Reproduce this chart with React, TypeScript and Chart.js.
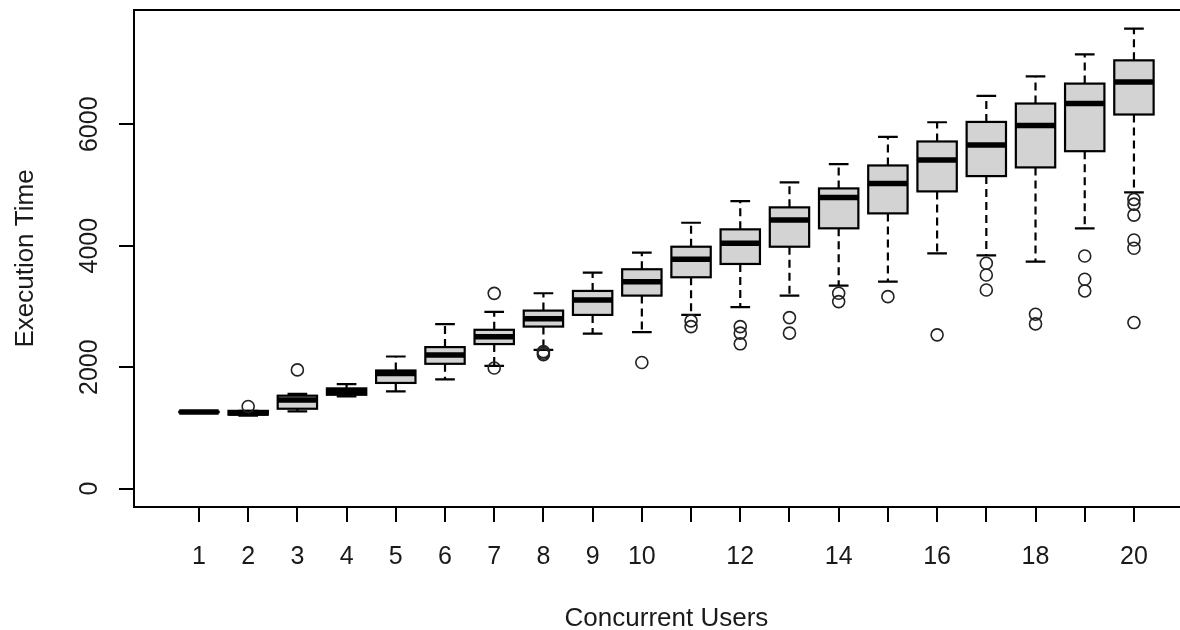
import React, { useEffect, useRef } from 'react';
import { Chart, registerables } from 'chart.js';

Chart.register(...registerables);

// ---- data ----
const users = [1, 2, 3, 4, 5, 6, 7, 8, 9, 10, 11, 12, 13, 14, 15, 16, 17, 18, 19, 20];
const xTickLabels = ['1', '2', '3', '4', '5', '6', '7', '8', '9', '10', '', '12', '', '14', '', '16', '', '18', '', '20'];
const yTickValues = [0, 2000, 4000, 6000];
const yTickLabels = ['0', '2000', '4000', '6000'];

const lowerWhisker = [1255, 1200, 1270, 1520, 1600, 1800, 2020, 2285, 2553, 2576, 2860, 2987, 3178, 3342, 3408, 3875, 3842, 3737, 4286, 4877];
const q1 = [1258, 1218, 1315, 1545, 1740, 2055, 2380, 2668, 2860, 3178, 3480, 3699, 3983, 4286, 4532, 4894, 5146, 5289, 5556, 6160];
const medians = [1262, 1245, 1460, 1595, 1895, 2200, 2500, 2795, 3107, 3408, 3776, 4039, 4422, 4795, 5026, 5409, 5660, 5979, 6341, 6696];
const q3 = [1266, 1280, 1530, 1650, 1945, 2330, 2615, 2931, 3255, 3612, 3983, 4269, 4631, 4943, 5321, 5716, 6038, 6341, 6669, 7052];
const upperWhisker = [1270, 1280, 1560, 1720, 2175, 2710, 2910, 3217, 3556, 3885, 4378, 4734, 5042, 5343, 5792, 6033, 6466, 6789, 7151, 7573];
const outliers: number[][] = [
  [], [1353], [1955], [], [], [], [3215, 1985], [2255, 2230, 2205], [], [2076],
  [2762, 2668], [2668, 2560, 2384], [2816, 2560], [3217, 3079], [3161], [2532],
  [3710, 3518, 3271], [2872, 2712], [3830, 3447, 3255], [4762, 4685, 4504, 4093, 3957, 2734],
];

const xTitle = 'Concurrent Users';
const yTitle = 'Execution Time';

// ---- layout / style constants ----
const W = 1180;
const H = 630;
const BOX_WIDTH = 0.8; // in category units
const STAPLE_WIDTH = 0.4;
const TICK_FONT = '25px "Liberation Sans", Arial, sans-serif';
const TITLE_FONT = '26px "Liberation Sans", Arial, sans-serif';
const TEXT_COLOR = '#1a1a1a';
const LINE = '#000000';
const FILL = '#d3d3d3';

export default function App() {
  const ref = useRef<HTMLCanvasElement>(null);

  useEffect(() => {
    document.body.style.margin = '0';
    const canvas = ref.current;
    if (!canvas) return;

    const outlierPoints = outliers.flatMap((arr, i) => arr.map((v) => ({ x: users[i], y: v })));

    const boxPlugin = {
      id: 'boxplot',
      beforeDatasetsDraw(chart: any) {
        const { ctx, scales } = chart;
        const x = scales.x;
        const y = scales.y;
        ctx.save();
        users.forEach((u, i) => {
          const cx = x.getPixelForValue(u);
          const left = x.getPixelForValue(u - BOX_WIDTH / 2);
          const right = x.getPixelForValue(u + BOX_WIDTH / 2);
          const sl = x.getPixelForValue(u - STAPLE_WIDTH / 2);
          const sr = x.getPixelForValue(u + STAPLE_WIDTH / 2);
          const yLo = y.getPixelForValue(lowerWhisker[i]);
          const yQ1 = y.getPixelForValue(q1[i]);
          const yMed = y.getPixelForValue(medians[i]);
          const yQ3 = y.getPixelForValue(q3[i]);
          const yHi = y.getPixelForValue(upperWhisker[i]);

          ctx.strokeStyle = LINE;
          ctx.lineWidth = 2.2;
          // whiskers (dashed)
          ctx.setLineDash([8, 5]);
          ctx.beginPath();
          ctx.moveTo(cx, yQ3);
          ctx.lineTo(cx, yHi);
          ctx.moveTo(cx, yQ1);
          ctx.lineTo(cx, yLo);
          ctx.stroke();
          ctx.setLineDash([]);
          // staples
          ctx.beginPath();
          ctx.moveTo(sl, yHi);
          ctx.lineTo(sr, yHi);
          ctx.moveTo(sl, yLo);
          ctx.lineTo(sr, yLo);
          ctx.stroke();
          // box
          ctx.fillStyle = FILL;
          ctx.fillRect(left, yQ3, right - left, yQ1 - yQ3);
          ctx.strokeRect(left, yQ3, right - left, yQ1 - yQ3);
          // median
          ctx.lineWidth = 5.5;
          ctx.lineCap = 'butt';
          ctx.beginPath();
          ctx.moveTo(left, yMed);
          ctx.lineTo(right, yMed);
          ctx.stroke();
        });
        ctx.restore();
      },
      afterDraw(chart: any) {
        const { ctx, chartArea, scales } = chart;
        const x = scales.x;
        const y = scales.y;
        ctx.save();
        // top frame line
        ctx.strokeStyle = LINE;
        ctx.lineWidth = 2;
        ctx.beginPath();
        ctx.moveTo(chartArea.left, chartArea.top);
        ctx.lineTo(chartArea.right, chartArea.top);
        ctx.stroke();

        ctx.fillStyle = TEXT_COLOR;
        ctx.font = TICK_FONT;
        // x tick labels
        ctx.textAlign = 'center';
        ctx.textBaseline = 'alphabetic';
        users.forEach((u, i) => {
          if (xTickLabels[i]) ctx.fillText(xTickLabels[i], x.getPixelForValue(u), 564);
        });
        // y tick labels (rotated)
        yTickValues.forEach((v, i) => {
          ctx.save();
          ctx.translate(97, y.getPixelForValue(v));
          ctx.rotate(-Math.PI / 2);
          ctx.fillText(yTickLabels[i], 0, 0);
          ctx.restore();
        });
        // axis titles
        ctx.font = TITLE_FONT;
        const plotCenterX = x.getPixelForValue(10.5);
        ctx.fillText(xTitle, plotCenterX, 626);
        ctx.save();
        ctx.translate(33, (chartArea.top + chartArea.bottom) / 2);
        ctx.rotate(-Math.PI / 2);
        ctx.fillText(yTitle, 0, 0);
        ctx.restore();
        ctx.restore();
      },
    };

    const chart = new Chart(canvas, {
      type: 'scatter',
      data: {
        datasets: [
          {
            label: 'outliers',
            data: outlierPoints,
            pointRadius: 6,
            pointHoverRadius: 6,
            pointBorderWidth: 1.6,
            pointBorderColor: '#222222',
            pointBackgroundColor: 'rgba(0,0,0,0)',
            showLine: false,
          },
        ],
      },
      options: {
        animation: false,
        responsive: false,
        devicePixelRatio: 1,
        events: [],
        layout: { autoPadding: false, padding: { top: 10, left: 0, right: 0, bottom: 0 } },
        plugins: {
          legend: { display: false },
          tooltip: { enabled: false },
          title: { display: false },
        },
        scales: {
          x: {
            type: 'linear',
            position: 'bottom',
            min: -0.32,
            max: 20.936,
            afterBuildTicks: (scale: any) => {
              scale.ticks = users.map((v) => ({ value: v }));
            },
            afterFit: (scale: any) => {
              scale.height = H - 507;
            },
            ticks: { display: false },
            grid: {
              drawOnChartArea: false,
              drawTicks: true,
              tickLength: 15,
              color: LINE,
              lineWidth: 2,
            },
            border: { display: true, color: LINE, width: 2 },
          },
          y: {
            type: 'linear',
            position: 'left',
            min: -303,
            max: 7881,
            afterBuildTicks: (scale: any) => {
              scale.ticks = yTickValues.map((v) => ({ value: v }));
            },
            afterFit: (scale: any) => {
              scale.width = 134;
            },
            ticks: { display: false },
            grid: {
              drawOnChartArea: false,
              drawTicks: true,
              tickLength: 15,
              color: LINE,
              lineWidth: 2,
            },
            border: { display: true, color: LINE, width: 2 },
          },
        },
      },
      plugins: [boxPlugin],
    } as any);

    return () => chart.destroy();
  }, []);

  return (
    <div style={{ position: 'absolute', left: 0, top: 0, width: W, height: H, overflow: 'hidden', background: '#fff' }}>
      <canvas ref={ref} width={W} height={H} style={{ display: 'block', width: W, height: H }} />
    </div>
  );
}
